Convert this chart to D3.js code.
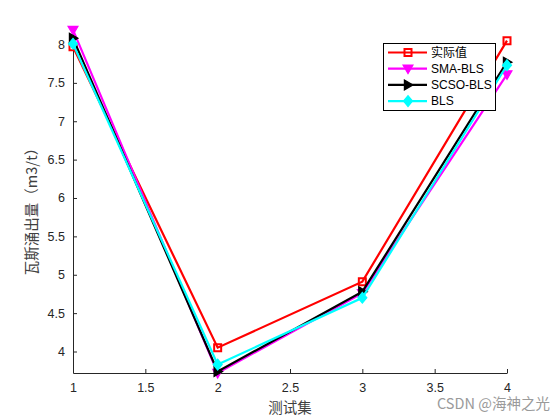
<!DOCTYPE html>
<head>
  <meta charset="utf-8">
  <script src="https://d3js.org/d3.v7.min.js"></script>
  <style>
    body { margin: 0; background: #fff; }
    .tick text { font-family: 'Liberation Sans', Arial, sans-serif; font-size: 12.5px; fill: #262626; }
    .axis path, .axis line { stroke: #262626; }
    .label { font-family: 'Noto Sans CJK SC', sans-serif; font-size: 14.5px; fill: #404040; }
    .legend-text { font-family: 'Liberation Sans', Arial, 'Noto Sans CJK SC', sans-serif; font-size: 12px; fill: #000; }
  </style>
</head>
<body>
  <div id="chart"></div>
  <script>
    var xs = [1, 2, 3, 4];
    var names = ['实际值', 'SMA-BLS', 'SCSO-BLS', 'BLS'];
    var actual = [7.97, 4.05, 4.91, 8.05];
    var smaBls = [8.19, 3.72, 4.76, 7.61];
    var scsoBls = [8.08, 3.74, 4.78, 7.77];
    var bls = [8.01, 3.83, 4.70, 7.73];
    var xTicks = [1, 1.5, 2, 2.5, 3, 3.5, 4];
    var yTicks = [4, 4.5, 5, 5.5, 6, 6.5, 7, 7.5, 8];

    var series = [
      { name: names[0], values: actual, color: '#ff0000', marker: 'square' },
      { name: names[1], values: smaBls, color: '#ff00ff', marker: 'down' },
      { name: names[2], values: scsoBls, color: '#000000', marker: 'right' },
      { name: names[3], values: bls, color: '#00ffff', marker: 'diamond' }
    ];

    var w = 560, h = 420;
    var mLeft = 73, mRight = 507, mTop = 29.9, mBottom = 373;

    var svg = d3.select('#chart').append('svg')
      .attr('width', w).attr('height', h);

    var allVals = [].concat(actual, smaBls, scsoBls, bls);
    var x = d3.scaleLinear().domain([1, 4]).range([mLeft, mRight]);
    var y = d3.scaleLinear().domain(d3.extent(allVals)).range([mBottom, mTop]);

    svg.append('g').attr('class', 'axis')
      .attr('transform', 'translate(0,' + mBottom + ')')
      .call(d3.axisBottom(x).tickValues(xTicks).tickSizeInner(-4).tickSizeOuter(0).tickPadding(10).tickFormat(d3.format('')));

    svg.append('g').attr('class', 'axis')
      .attr('transform', 'translate(' + mLeft + ',0)')
      .call(d3.axisLeft(y).tickValues(yTicks).tickSizeInner(-4).tickSizeOuter(0).tickPadding(8).tickFormat(d3.format('')));

    svg.selectAll('.axis path').attr('stroke-width', 1);

    svg.append('text').attr('class', 'label')
      .attr('x', (mLeft + mRight) / 2).attr('y', 413)
      .attr('text-anchor', 'middle').text('测试集');

    svg.append('text').attr('class', 'label')
      .attr('transform', 'translate(37,' + 208 + ') rotate(-90)')
      .attr('text-anchor', 'middle').text('瓦斯涌出量（m3/t）');

    function markerPath(type, s) {
      if (type === 'square') return 'M' + (-s) + ',' + (-s) + 'H' + s + 'V' + s + 'H' + (-s) + 'Z';
      if (type === 'down') return 'M' + (-s * 1.1) + ',' + (-s * 0.8) + 'L' + (s * 1.1) + ',' + (-s * 0.8) + 'L0,' + (s * 1.1) + 'Z';
      if (type === 'right') return 'M' + (-s * 0.8) + ',' + (-s * 1.1) + 'L' + (s * 1.1) + ',0L' + (-s * 0.8) + ',' + (s * 1.1) + 'Z';
      return 'M0,' + (-s * 1.2) + 'L' + s + ',0L0,' + (s * 1.2) + 'L' + (-s) + ',0Z';
    }

    var line = d3.line().x(function (d, i) { return x(xs[i]); }).y(function (d) { return y(d); });

    series.forEach(function (s) {
      var g = svg.append('g');
      g.append('path').attr('d', line(s.values))
        .attr('fill', 'none').attr('stroke', s.color).attr('stroke-width', 2.2);
      g.selectAll('path.m').data(s.values).enter().append('path')
        .attr('class', 'm')
        .attr('d', markerPath(s.marker, s.marker === 'square' ? 3.5 : 4.5))
        .attr('transform', function (d, i) { return 'translate(' + x(xs[i]) + ',' + y(d) + ')'; })
        .attr('fill', s.marker === 'square' ? 'none' : s.color)
        .attr('stroke', s.color).attr('stroke-width', s.marker === 'square' ? 2 : 1.2);
    });

    // legend
    var lg = svg.append('g');
    lg.append('rect').attr('x', 383.5).attr('y', 43.5).attr('width', 112).attr('height', 67)
      .attr('fill', '#fff').attr('stroke', '#000').attr('stroke-width', 1);
    series.forEach(function (s, i) {
      var cy = 52.5 + i * 16.2;
      lg.append('line').attr('x1', 388).attr('x2', 427).attr('y1', cy).attr('y2', cy)
        .attr('stroke', s.color).attr('stroke-width', 2.2);
      lg.append('path').attr('d', markerPath(s.marker, s.marker === 'square' ? 3.5 : 4.5))
        .attr('transform', 'translate(408,' + cy + ')')
        .attr('fill', s.marker === 'square' ? 'none' : s.color)
        .attr('stroke', s.color).attr('stroke-width', s.marker === 'square' ? 2 : 1.2);
      lg.append('text').attr('class', 'legend-text')
        .attr('x', 431).attr('y', cy + 4).text(s.name);
    });

    svg.append('text')
      .attr('x', 437).attr('y', 409)
      .attr('font-family', "'Noto Sans CJK SC', sans-serif").attr('font-size', 14.5)
      .attr('fill', '#9a9a9a').text('CSDN @海神之光');
  </script>
</body>
</html>
